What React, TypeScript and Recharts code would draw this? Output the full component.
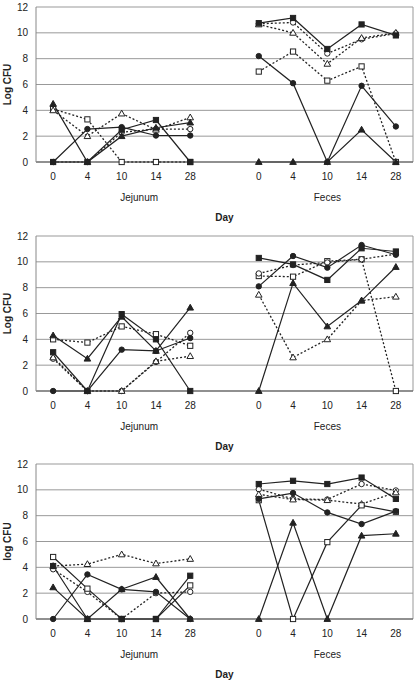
import { LineChart, Line, XAxis, YAxis, CartesianGrid } from "recharts";

// x categories: jejunum days, an empty slot, feces days
const dayKeys = ["j0", "j4", "j10", "j14", "j28", "gap", "f0", "f4", "f10", "f14", "f28"];
const dayLabels = ["0", "4", "10", "14", "28", "", "0", "4", "10", "14", "28"];
const yTicks = [0, 2, 4, 6, 8, 10, 12];
const yTitles = ["Log CFU", "Log CFU", "log CFU"];

// each list: jejunum d0,4,10,14,28 then feces d0,4,10,14,28
const p1FilledSquare = [0, 0, 2.5, 3.25, 0, 10.75, 11.15, 8.75, 10.65, 9.8];
const p1FilledCircle = [0, 2.55, 2.7, 2.05, 2.05, 8.2, 6.1, 0, 5.9, 2.75];
const p1FilledTriangle = [4.5, 0, 2.0, 2.65, 3.05, 0, 0, 0, 2.5, 0];
const p1OpenSquare = [4.1, 3.3, 0, 0, 0, 7.0, 8.55, 6.3, 7.4, 0];
const p1OpenCircle = [0, 0, 2.3, 2.55, 2.55, 10.7, 10.8, 8.4, 9.5, 9.95];
const p1OpenTriangle = [4.0, 2.0, 3.75, 2.5, 3.45, 10.65, 10.0, 7.6, 9.6, 10.0];

const p2FilledSquare = [3.0, 0, 5.95, 4.0, 0, 10.3, 9.8, 8.6, 11.05, 10.8];
const p2FilledCircle = [0, 0, 3.2, 3.1, 4.1, 8.1, 10.45, 9.55, 11.3, 10.55];
const p2FilledTriangle = [4.3, 2.5, 5.75, 3.1, 6.45, 0, 8.35, 5.0, 7.0, 9.6];
const p2OpenSquare = [4.0, 3.75, 5.0, 4.4, 3.5, 8.9, 8.85, 10.05, 10.2, 0];
const p2OpenCircle = [2.5, 0, 0, 2.25, 4.5, 9.1, 9.75, 9.95, 10.2, 10.6];
const p2OpenTriangle = [2.6, 0, 0, 2.3, 2.7, 7.45, 2.6, 4.0, 7.0, 7.3];

const p3FilledSquare = [4.1, 0, 0, 0, 3.35, 10.45, 10.7, 10.45, 10.95, 9.3];
const p3FilledCircle = [0, 3.45, 2.3, 2.1, 0, 9.3, 9.75, 8.25, 7.35, 8.35];
const p3FilledTriangle = [2.45, 0, 2.3, 3.25, 0, 0, 7.45, 0, 6.45, 6.6];
const p3OpenSquare = [4.8, 2.35, 0, 0, 2.6, 9.2, 0, 5.95, 8.8, 8.3];
const p3OpenCircle = [3.85, 2.1, 0, 2.0, 2.1, 10.05, 9.3, 9.25, 10.45, 9.95];
const p3OpenTriangle = [4.1, 4.25, 5.0, 4.3, 4.65, 9.65, 9.25, 9.2, 8.9, 9.8];

type Shape = "square" | "circle" | "triangle";
type Series = { key: string; shape: Shape; filled: boolean; dotted: boolean; values: number[] };

const panels: Series[][] = [
  [
    { key: "os", shape: "square", filled: false, dotted: true, values: p1OpenSquare },
    { key: "oc", shape: "circle", filled: false, dotted: true, values: p1OpenCircle },
    { key: "ot", shape: "triangle", filled: false, dotted: true, values: p1OpenTriangle },
    { key: "fc", shape: "circle", filled: true, dotted: false, values: p1FilledCircle },
    { key: "ft", shape: "triangle", filled: true, dotted: false, values: p1FilledTriangle },
    { key: "fs", shape: "square", filled: true, dotted: false, values: p1FilledSquare },
  ],
  [
    { key: "os", shape: "square", filled: false, dotted: true, values: p2OpenSquare },
    { key: "oc", shape: "circle", filled: false, dotted: true, values: p2OpenCircle },
    { key: "ot", shape: "triangle", filled: false, dotted: true, values: p2OpenTriangle },
    { key: "fc", shape: "circle", filled: true, dotted: false, values: p2FilledCircle },
    { key: "ft", shape: "triangle", filled: true, dotted: false, values: p2FilledTriangle },
    { key: "fs", shape: "square", filled: true, dotted: false, values: p2FilledSquare },
  ],
  [
    { key: "oc", shape: "circle", filled: false, dotted: true, values: p3OpenCircle },
    { key: "ot", shape: "triangle", filled: false, dotted: true, values: p3OpenTriangle },
    { key: "os", shape: "square", filled: false, dotted: false, values: p3OpenSquare },
    { key: "fc", shape: "circle", filled: true, dotted: false, values: p3FilledCircle },
    { key: "ft", shape: "triangle", filled: true, dotted: false, values: p3FilledTriangle },
    { key: "fs", shape: "square", filled: true, dotted: false, values: p3FilledSquare },
  ],
];

const INK = "#222";
const FONT = "'Liberation Sans', Arial, sans-serif";
const panelTops = [0, 229, 457];

function buildRows(series: Series[]) {
  return dayKeys.map((k, i) => {
    const row: any = { day: k };
    const vi = i < 5 ? i : i - 1;
    series.forEach((s) => {
      row[s.key] = k === "gap" ? null : s.values[vi];
    });
    return row;
  });
}

function Marker(props: any) {
  const { cx, cy, shape, filled } = props;
  if (cx == null || cy == null || isNaN(cy)) return <g />;
  const fill = filled ? INK : "#fff";
  if (shape === "square")
    return <rect x={cx - 2.6} y={cy - 2.6} width={5.2} height={5.2} fill={fill} stroke={INK} strokeWidth={1} />;
  if (shape === "circle") return <circle cx={cx} cy={cy} r={2.7} fill={fill} stroke={INK} strokeWidth={1} />;
  return (
    <polygon
      points={`${cx},${cy - 3.4} ${cx - 3.3},${cy + 2.4} ${cx + 3.3},${cy + 2.4}`}
      fill={fill}
      stroke={INK}
      strokeWidth={1}
    />
  );
}

function DayTick(props: any) {
  const { x, y, payload } = props;
  const i = dayKeys.indexOf(payload.value);
  const txt = { fontFamily: FONT, fontSize: 10, fill: INK };
  return (
    <g transform={`translate(${x},${y})`}>
      <text textAnchor="middle" dy="0.71em" {...txt}>
        {dayLabels[i]}
      </text>
      {payload.value === "j10" && (
        <text x={17.5} y={28.2} textAnchor="middle" {...txt}>
          Jejunum
        </text>
      )}
      {payload.value === "f10" && (
        <text y={28.2} textAnchor="middle" {...txt}>
          Feces
        </text>
      )}
    </g>
  );
}

function Panel({ series, title, top }: { series: Series[]; title: string; top: number }) {
  const data = buildRows(series);
  return (
    <div style={{ position: "absolute", left: 0, top }}>
      <LineChart width={416} height={228} data={data} margin={{ top: 7, right: 3, bottom: 0, left: 0 }}>
        <CartesianGrid stroke="#999" strokeWidth={1} verticalPoints={[413]} />
        <XAxis
          dataKey="day"
          scale="band"
          interval={0}
          height={66}
          tickLine={false}
          tickSize={6}
          tickMargin={5}
          axisLine={{ stroke: "#555" }}
          tick={<DayTick />}
          label={{
            value: "Day",
            position: "insideBottom",
            offset: 7,
            style: { fontFamily: FONT, fontSize: 10, fontWeight: 700, fill: INK },
          }}
        />
        <YAxis
          width={36}
          domain={[0, 12]}
          ticks={yTicks}
          tickLine={false}
          axisLine={{ stroke: "#888" }}
          tick={{ fontFamily: FONT, fontSize: 10, fill: INK }}
          label={{
            content: (p: any) => {
              const vb = p.viewBox || { x: 0, y: 7, width: 36, height: 155 };
              const lx = vb.x + 7;
              const ly = vb.y + vb.height / 2;
              return (
                <text
                  x={lx}
                  y={ly}
                  transform={`rotate(-90, ${lx}, ${ly})`}
                  textAnchor="middle"
                  dominantBaseline="central"
                  fontFamily={FONT}
                  fontSize={10}
                  fontWeight={700}
                  fill={INK}
                >
                  {title}
                </text>
              );
            },
          }}
        />
        {series.map((s) => (
          <Line
            key={s.key}
            type="linear"
            dataKey={s.key}
            stroke={INK}
            strokeWidth={s.dotted ? 1.3 : 1.2}
            strokeDasharray={s.dotted ? "2 2" : undefined}
            isAnimationActive={false}
            activeDot={false}
            dot={(p: any) => (
              <Marker key={`${s.key}-${p.index}`} cx={p.cx} cy={p.cy} shape={s.shape} filled={s.filled} />
            )}
          />
        ))}
      </LineChart>
    </div>
  );
}

export default function App() {
  return (
    <div style={{ position: "absolute", left: 0, top: 0, width: 416, height: 684, background: "#fff" }}>
      {panels.map((series, i) => (
        <Panel key={i} series={series} title={yTitles[i]} top={panelTops[i]} />
      ))}
    </div>
  );
}
